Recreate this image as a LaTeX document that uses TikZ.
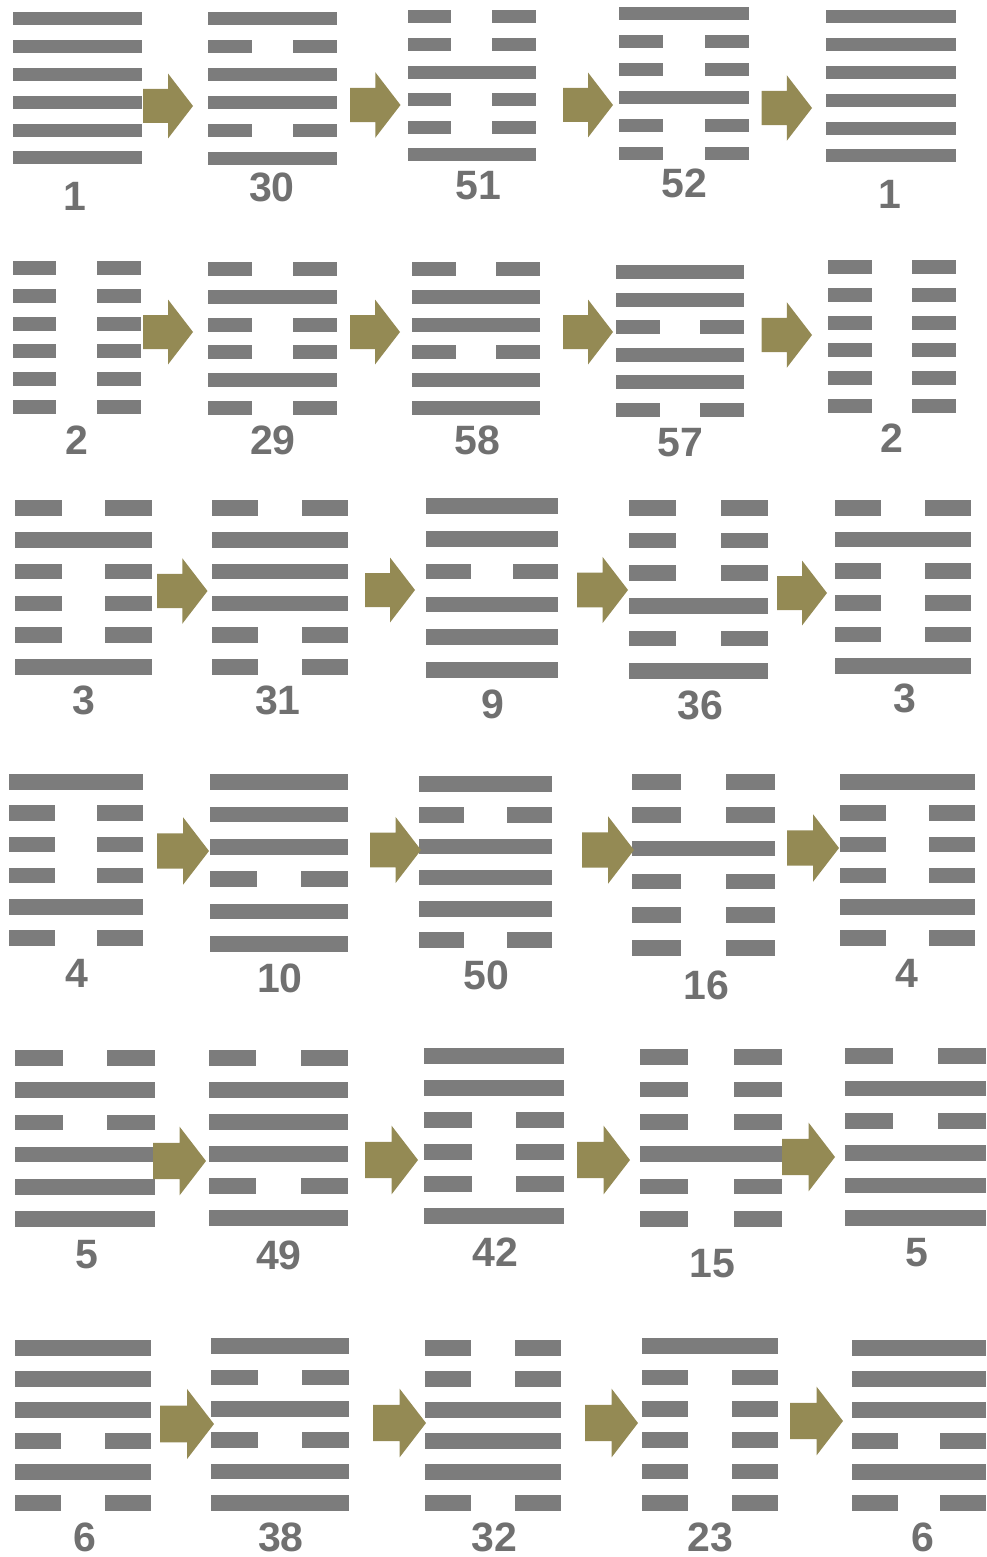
\documentclass[tikz,border=0pt]{standalone}
\usepackage{fontspec}
\setmainfont{Liberation Sans}
\usetikzlibrary{positioning}

\definecolor{lineagrigia}{RGB}{124,124,124}
\definecolor{numgrigio}{RGB}{112,112,112}
\definecolor{oliva}{RGB}{148,138,84}

% esagramma: nome, x sx, x dx, y prima linea, y ultima linea, spessore, linee (1 = intera, 0 = spezzata)
\newcommand{\esagramma}[7]{%
  \foreach \b [count=\i from 0] in {#7} {
    \pgfmathsetmacro{\yy}{#4+\i*(#5-#4)/5}
    \ifnum\b=1
      \fill[linea] (#2,\yy-#6/2) rectangle (#3,\yy+#6/2);
    \else
      \fill[linea] (#2,\yy-#6/2) rectangle ({#2+0.34*(#3-#2)},\yy+#6/2);
      \fill[linea] ({#3-0.34*(#3-#2)},\yy-#6/2) rectangle (#3,\yy+#6/2);
    \fi
  }
  \coordinate (#1) at ({(#2+#3)/2},{(#4+#5)/2});
}

% freccia piena: x coda, x punta, y centro
\newcommand{\freccia}[3]{%
  \pgfmathsetmacro{\fl}{#2-#1}
  \fill[blocco] (#1,{#3-0.34*\fl}) -- ({(#1+#2)/2},{#3-0.34*\fl}) -- ({(#1+#2)/2},{#3-0.65*\fl})
    -- (#2,#3) -- ({(#1+#2)/2},{#3+0.65*\fl}) -- ({(#1+#2)/2},{#3+0.34*\fl}) -- (#1,{#3+0.34*\fl}) -- cycle;
}

\begin{document}
\begin{tikzpicture}[
    x=1pt, y=-1pt,
    % Stili
    linea/.style={fill=lineagrigia},
    blocco/.style={fill=oliva},
    num/.style={text=numgrigio, inner sep=0pt, font=\fontsize{41}{41}\selectfont\bfseries}
]
    \useasboundingbox (0,0) rectangle (986,1557);

    % ==================== RIGA 1 ====================
    \esagramma{h1a}{13}{142}{19}{158}{13}{1,1,1,1,1,1}
    \esagramma{h30}{207.5}{337}{19}{159}{13}{1,0,1,1,0,1}
    \esagramma{h51}{407.5}{536}{17}{155}{13}{0,0,1,0,0,1}
    \esagramma{h52}{619}{749}{14}{154}{13}{1,0,0,1,0,0}
    \esagramma{h1b}{826}{956}{17}{156}{13}{1,1,1,1,1,1}

    \freccia{143}{193}{106}
    \freccia{350}{400.5}{105}
    \freccia{563}{613}{105}
    \freccia{761.5}{812}{108}

    \node[num] (n1a) at (75,196) {1};
    \node[num] (n30) at (272,187) {30};
    \node[num] (n51) at (478,186) {51};
    \node[num] (n52) at (684,183) {52};
    \node[num] (n1b) at (890,194) {1};

    % ==================== RIGA 2 ====================
    \esagramma{h2a}{12.6}{141}{268}{407}{14}{0,0,0,0,0,0}
    \esagramma{h29}{208}{337}{269}{408}{14}{0,1,0,0,1,0}
    \esagramma{h58}{412}{540}{269}{408}{14}{0,1,1,0,1,1}
    \esagramma{h57}{616}{744}{272}{410}{14}{1,1,0,1,1,0}
    \esagramma{h2b}{828}{956}{267}{406}{14}{0,0,0,0,0,0}

    \freccia{143}{193}{332}
    \freccia{350}{400}{332}
    \freccia{563}{613}{332}
    \freccia{761.5}{812}{335}

    \node[num] (n2a) at (77,440) {2};
    \node[num] (n29) at (273,440) {29};
    \node[num] (n58) at (477,440) {58};
    \node[num] (n57) at (680,443) {57};
    \node[num] (n2b) at (892,438) {2};

    % ==================== RIGA 3 ====================
    \esagramma{h3a}{15}{152}{508}{667}{15.5}{0,1,0,0,0,1}
    \esagramma{h31}{212}{348}{508}{667}{15.5}{0,1,1,1,0,0}
    \esagramma{h9}{426}{558}{506}{670}{15.5}{1,1,0,1,1,1}
    \esagramma{h36}{629}{768}{508}{671}{15.5}{0,0,0,1,0,1}
    \esagramma{h3b}{835}{971}{508}{666}{15.5}{0,1,0,0,0,1}

    \freccia{157}{207.5}{591}
    \freccia{365}{415}{590}
    \freccia{577}{628}{590}
    \freccia{777}{827}{593}

    \node[num] (n3a) at (84,700) {3};
    \node[num] (n31) at (278,700) {31};
    \node[num] (n9) at (493,704) {9};
    \node[num] (n36) at (700,705) {36};
    \node[num] (n3b) at (905,698) {3};

    % ==================== RIGA 4 ====================
    \esagramma{h4a}{9}{143}{782}{938}{15.5}{1,0,0,0,1,0}
    \esagramma{h10}{210}{348}{782}{944}{15.5}{1,1,1,0,1,1}
    \esagramma{h50}{419}{552}{784}{940}{15.5}{1,0,1,1,1,0}
    \esagramma{h16}{632}{775}{782}{948}{15.5}{0,0,1,0,0,0}
    \esagramma{h4b}{840}{975}{782}{938}{15.5}{1,0,0,0,1,0}

    \freccia{157}{209}{851}
    \freccia{370}{421}{850}
    \freccia{582}{634}{850}
    \freccia{787}{839}{848}

    \node[num] (n4a) at (77,973) {4};
    \node[num] (n10) at (280,978) {10};
    \node[num] (n50) at (486,975) {50};
    \node[num] (n16) at (706,985) {16};
    \node[num] (n4b) at (907,973) {4};

    % ==================== RIGA 5 ====================
    \esagramma{h5a}{15}{155}{1058}{1219}{15.5}{0,1,0,1,1,1}
    \esagramma{h49}{209}{348}{1058}{1218}{15.5}{0,1,1,1,0,1}
    \esagramma{h42}{424}{564}{1056}{1216}{15.5}{1,1,0,0,0,1}
    \esagramma{h15}{640}{782}{1057}{1219}{15.5}{0,0,0,1,0,0}
    \esagramma{h5b}{845}{986}{1056}{1218}{15.5}{0,1,0,1,1,1}

    \freccia{153}{206}{1161}
    \freccia{365}{418}{1160}
    \freccia{577}{630}{1160}
    \freccia{782}{835}{1157}

    \node[num] (n5a) at (87,1255) {5};
    \node[num] (n49) at (279,1255) {49};
    \node[num] (n42) at (495,1252) {42};
    \node[num] (n15) at (712,1264) {15};
    \node[num] (n5b) at (917,1253) {5};

    % ==================== RIGA 6 ====================
    \esagramma{h6a}{15}{151}{1348}{1503}{15.5}{1,1,1,0,1,0}
    \esagramma{h38}{211}{349}{1346}{1503}{15.5}{1,0,1,0,1,1}
    \esagramma{h32}{425}{561}{1348}{1503}{15.5}{0,0,1,1,1,0}
    \esagramma{h23}{642}{778}{1346}{1503}{15.5}{1,0,0,0,0,0}
    \esagramma{h6b}{852}{986}{1348}{1503}{15.5}{1,1,1,0,1,0}

    \freccia{160}{214}{1424}
    \freccia{373}{426}{1423}
    \freccia{585}{638}{1423}
    \freccia{790}{843}{1421}

    \node[num] (n6a) at (85,1537) {6};
    \node[num] (n38) at (281,1537) {38};
    \node[num] (n32) at (494,1537) {32};
    \node[num] (n23) at (710,1537) {23};
    \node[num] (n6b) at (923,1537) {6};

\end{tikzpicture}
\end{document}
